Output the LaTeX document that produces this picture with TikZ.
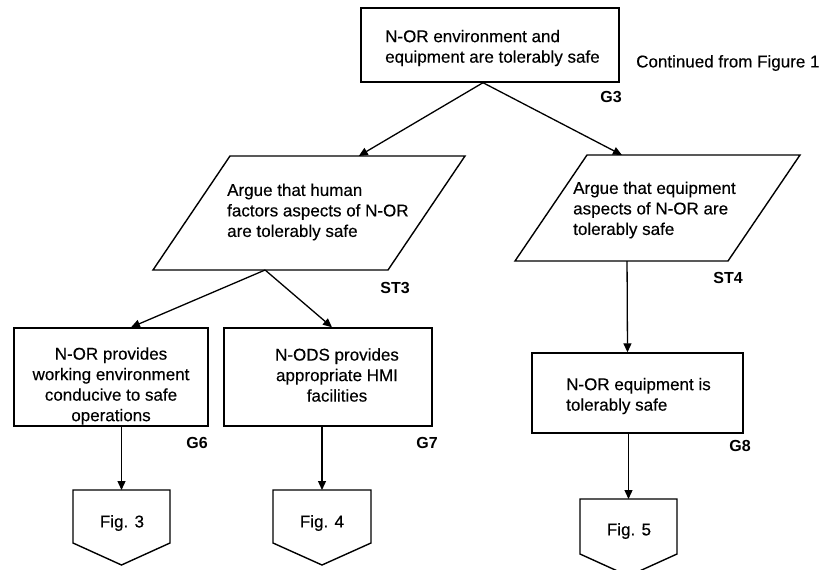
\documentclass[tikz,border=0pt]{standalone}
\usepackage{fontspec}
\setmainfont{Liberation Sans}
\usetikzlibrary{arrows.meta,calc}
\begin{document}
\begin{tikzpicture}[x=1pt,y=-1pt,
  outline/.style={draw=black, line width=1.4pt, line join=miter},
  goalbox/.style={outline, rectangle, inner sep=0pt},
  frame/.style={rectangle, draw=none, inner sep=0pt, outer sep=0pt},
  body/.style={inner sep=0pt,
    font=\fontsize{17}{20.5}\selectfont\addfontfeatures{FakeBold=0.3}},
  idlabel/.style={inner sep=0pt, anchor=east,
    font=\fontsize{16}{16}\selectfont\bfseries},
  link/.style={line width=1.3pt, -{Triangle[length=9pt,width=8pt]}}]

\useasboundingbox (0,0) rectangle (825,570);

% ---- top goal ----
\node[goalbox, minimum width=258pt, minimum height=74pt] (g3) at (490,45) {};
\node[body, align=left, anchor=west] (g3-text) at (385,48)
  {N-OR environment and\\equipment are tolerably safe};
\node[body, anchor=west] (continued) at (636,63) {Continued from Figure 1};
\node[idlabel] (g3-id) at (622,97) {G3};

% ---- strategies (parallelograms slanted to the right) ----
\node[frame, minimum width=235pt, minimum height=114pt] (st3) at (309,213) {};
\coordinate (st3-tl) at ([xshift=38.5pt]st3.north west);
\coordinate (st3-tr) at ([xshift=38.5pt]st3.north east);
\coordinate (st3-br) at ([xshift=-38.5pt]st3.south east);
\coordinate (st3-bl) at ([xshift=-38.5pt]st3.south west);
\draw[outline] (st3-tl) -- (st3-tr) -- (st3-br) -- (st3-bl) -- cycle;
\node[body, align=left, anchor=west] (st3-text) at (227,212)
  {Argue that human\\factors aspects of N-OR\\are tolerably safe};
\node[idlabel] (st3-id) at (410,288) {ST3};

\node[frame, minimum width=213pt, minimum height=106pt] (st4) at (657.5,208) {};
\coordinate (st4-tl) at ([xshift=36pt]st4.north west);
\coordinate (st4-tr) at ([xshift=36pt]st4.north east);
\coordinate (st4-br) at ([xshift=-36pt]st4.south east);
\coordinate (st4-bl) at ([xshift=-36pt]st4.south west);
\draw[outline] (st4-tl) -- (st4-tr) -- (st4-br) -- (st4-bl) -- cycle;
\node[body, align=left, anchor=west] (st4-text) at (573,210)
  {Argue that equipment\\aspects of N-OR are\\tolerably safe};
\node[idlabel] (st4-id) at (743,278) {ST4};

% ---- sub-goals ----
\node[goalbox, minimum width=194pt, minimum height=98pt] (g6) at (111,377) {};
\node[body, align=center] (g6-text) at (111,386)
  {N-OR provides\\working environment\\conducive to safe\\operations};
\node[idlabel] (g6-id) at (208,443) {G6};

\node[goalbox, minimum width=208pt, minimum height=98pt] (g7) at (328,377) {};
\node[body, align=center] (g7-text) at (337,375)
  {N-ODS provides\\appropriate HMI\\facilities};
\node[idlabel] (g7-id) at (438,443) {G7};

\node[goalbox, minimum width=211pt, minimum height=80pt] (g8) at (637.5,393) {};
\node[body, align=left, anchor=west] (g8-text) at (566,396)
  {N-OR equipment is\\tolerably safe};
\node[idlabel] (g8-id) at (751,446) {G8};

% ---- off-page connectors ----
\node[frame, minimum width=97pt, minimum height=53pt] (fig3) at (121.5,516.5) {};
\node[frame, minimum width=98pt, minimum height=53pt] (fig4) at (322,516.5) {};
\node[frame, minimum width=97pt, minimum height=55pt] (fig5) at (628.5,526.5) {};
\foreach \f in {fig3,fig4,fig5}
  \draw[outline] (\f.north west) -- (\f.north east) -- (\f.south east)
    -- ([yshift=-22pt]\f.south) -- (\f.south west) -- cycle;
\node[body] (fig3-text) at (122,523) {Fig. 3};
\node[body] (fig4-text) at (322,523) {Fig. 4};
\node[body] (fig5-text) at (629,531) {Fig. 5};

% ---- connectors ----
\draw[link] ([xshift=-7pt]g3.south) -- ($(st3-tl)!0.548!(st3-tr)$);
\draw[link] ([xshift=-7pt]g3.south) -- ($(st4-tl)!0.164!(st4-tr)$);
\draw[link] ($(st3-bl)!0.477!(st3-br)$) -- ([xshift=20pt]g6.north);
\draw[link] ($(st3-bl)!0.477!(st3-br)$) -- ([xshift=4pt]g7.north);
\draw[link] ($(st4-bl)!0.526!(st4-br)$) -- ([xshift=-10pt]g8.north);
\draw[link] (g6.south -| fig3.north) -- (fig3.north);
\draw[link] (g7.south -| fig4.north) -- (fig4.north);
\draw[link] (g8.south -| fig5.north) -- (fig5.north);
\end{tikzpicture}
\end{document}
